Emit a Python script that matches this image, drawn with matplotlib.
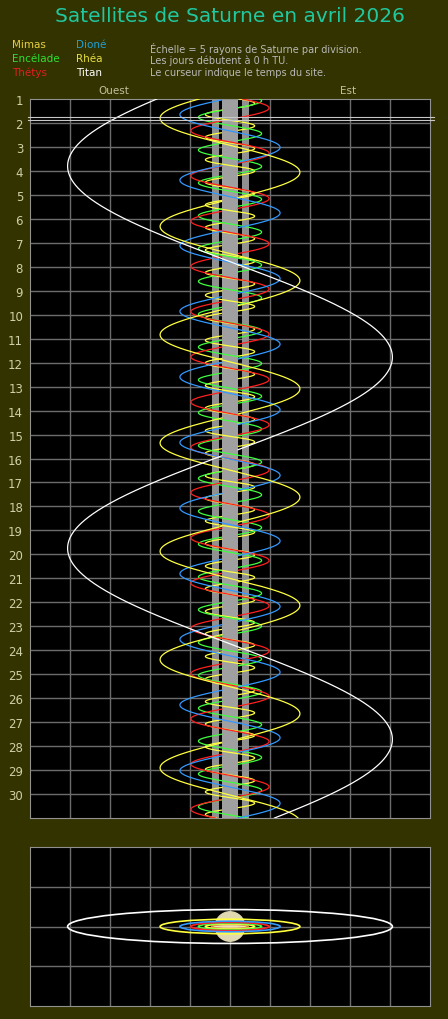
import numpy as np
import matplotlib.pyplot as plt
from matplotlib.patches import Ellipse, Circle

# Satellites: nom, couleur courbe, couleur legende, elongation (rayons), periode (j), jour d'elongation ouest
noms = ["Mimas", "Encélade", "Thétys", "Dioné", "Rhéa", "Titan"]
couleurs = ["#ffff40", "#40ff40", "#ff2020", "#3399ff", "#ffff40", "#ffffff"]
couleurs_leg = ["#e8d040", "#30e030", "#e02020", "#20a0d8", "#e8e040", "#ffffff"]
elongations = [3.08, 3.95, 4.89, 6.26, 8.74, 20.3]
periodes = [0.942, 1.370, 1.888, 2.737, 4.518, 15.945]
ouest_jour = [1.65, 1.76, 2.32, 1.65, 1.80, 3.80]

jours = list(range(1, 31))
curseur = 1.85
fond = "#333300"
grille = "#6c6c6c"

W, H = 448, 1020
fig = plt.figure(figsize=(W / 100, H / 100), dpi=100, facecolor=fond)

def px_axes(x0, y0, x1, y1):
    return fig.add_axes([x0 / W, 1 - y1 / H, (x1 - x0) / W, (y1 - y0) / H])

fig.text(230 / W, 1 - 17 / H, "Satellites de Saturne en avril 2026", color="#20c8a0",
         fontsize=14.5, ha="center", va="center")

pos_leg = [(12, 45), (12, 59), (12, 73), (76, 45), (76, 59), (76, 73)]
for i, (x, y) in enumerate(pos_leg):
    fig.text(x / W, 1 - y / H, noms[i], color=couleurs_leg[i], fontsize=7.5, va="center")
infos = ["Échelle = 5 rayons de Saturne par division.",
         "Les jours débutent à 0 h TU.",
         "Le curseur indique le temps du site."]
for k, s in enumerate(infos):
    fig.text(150 / W, 1 - (49 + 12 * k) / H, s, color="#b8b8b8", fontsize=7, va="center")
fig.text(114 / W, 1 - 91 / H, "Ouest", color="#c0c0a0", fontsize=7.5, ha="center", va="center")
fig.text(348 / W, 1 - 91 / H, "Est", color="#c0c0a0", fontsize=7.5, ha="center", va="center")

# panneau principal
ax = px_axes(30, 100, 430, 819)
ax.set_facecolor("black")
ax.set_xlim(-25, 25)
ax.set_ylim(31, 1)
for x in np.arange(-20, 25, 5):
    ax.axvline(x, color=grille, lw=1, zorder=1)
for d in jours[1:]:
    ax.axhline(d, color=grille, lw=1, zorder=1)
ax.axvspan(-2.29, -1.4, color="#909090", zorder=2, lw=0)
ax.axvspan(-1.05, 1.05, color="#a0a0a0", zorder=2, lw=0)
ax.axvspan(1.5, 2.4, color="#909090", zorder=2, lw=0)
ax.set_xticks([])
ax.set_yticks(jours)
ax.set_yticklabels([str(d) for d in jours])
ax.tick_params(axis="y", length=0, colors="#d0d0a8", labelsize=8.5, pad=5)
for s in ax.spines.values():
    s.set_color("#909090")

t = np.linspace(1, 31, 6000)
for i in range(len(noms)):
    th = 2 * np.pi * (t - ouest_jour[i]) / periodes[i]
    x = -elongations[i] * np.cos(th)
    z = np.sin(th)
    x = np.where((np.abs(x) < 1.0) & (z < 0), np.nan, x)
    ax.plot(x, t, color=couleurs[i], lw=0.9, zorder=3)

for dy in (0.0, 0.1):
    ax.plot([-25.2, 25.5], [curseur - 0.08 + dy] * 2, color="#c8c8c8", lw=0.8,
            zorder=4, clip_on=False)

# vue de face
ax2 = px_axes(30, 848, 430, 1007)
ax2.set_facecolor("black")
ax2.set_xlim(-25, 25)
ax2.set_ylim(-10, 10)
for x in np.arange(-20, 25, 5):
    ax2.axvline(x, color=grille, lw=1, zorder=1)
for y in (-5, 0, 5):
    ax2.axhline(y, color=grille, lw=1, zorder=1)
ax2.set_xticks([])
ax2.set_yticks([])
for s in ax2.spines.values():
    s.set_color("#909090")
ax2.add_patch(Circle((0, 0), 1.85, color="#e0d8b0", zorder=3))
ax2.add_patch(Ellipse((0, 0), 4.6, 0.5, fc="#f0e0b0", ec="#d08040", lw=1, zorder=4))
for i in range(len(noms)):
    a = elongations[i]
    ax2.add_patch(Ellipse((0, 0), 2 * a, 2 * a * 0.105, fc="none", ec=couleurs[i],
                          lw=1.2, zorder=5))

fig.savefig("out.png", dpi=100, facecolor=fond)
